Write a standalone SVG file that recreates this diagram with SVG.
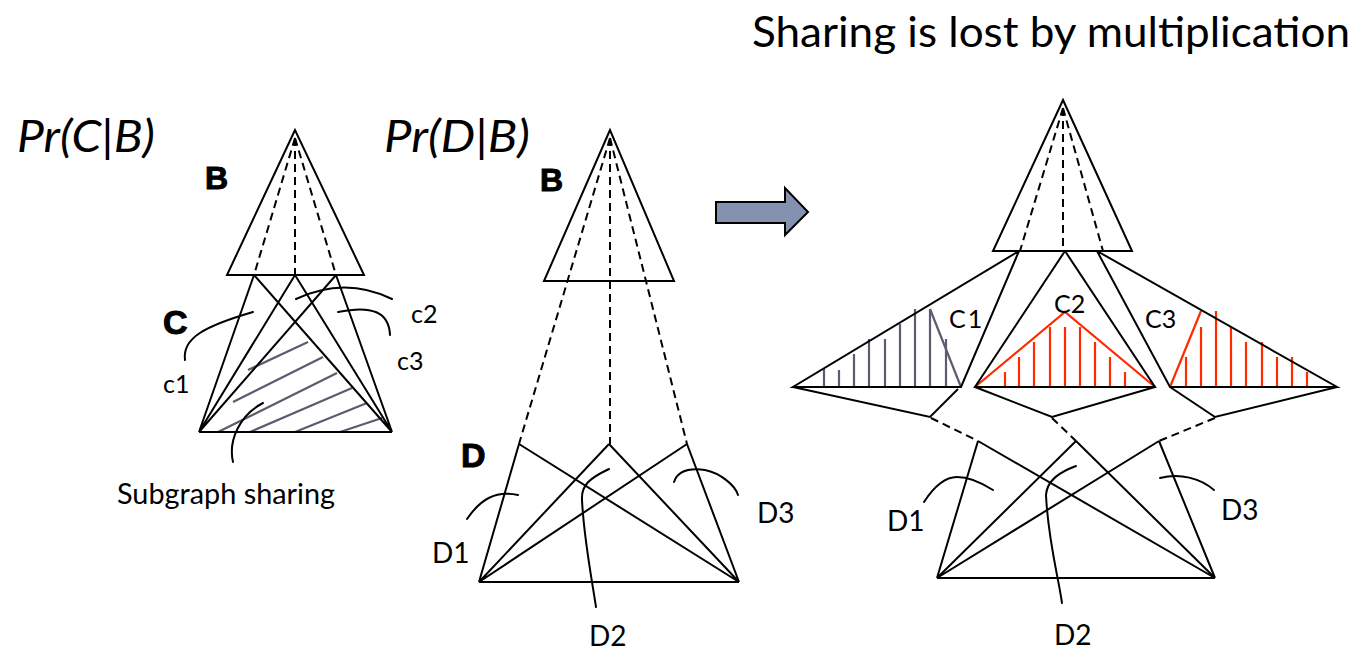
<svg xmlns="http://www.w3.org/2000/svg" width="1359" height="653" viewBox="0 0 1359 653">
<style>
.ln{stroke:#000;stroke-width:2;fill:none;stroke-linejoin:miter}
.dash{stroke:#000;stroke-width:2;fill:none;stroke-dasharray:8,5}
.cur{stroke:#000;stroke-width:2;fill:none;stroke-linecap:round}
.gray{stroke:#5c5c70;stroke-width:2.2;fill:none}
.red{stroke:#ff2a00;stroke-width:2.2;fill:none}
.t{font-family:Lato,"Open Sans","Liberation Sans",sans-serif;fill:#000}
.b{font-family:"Liberation Sans",Arial,sans-serif;font-weight:700;stroke:#000;stroke-width:1}
.it{font-style:italic}
</style>
<rect width="1359" height="653" fill="#fff"/>

<!-- titles -->
<g id="title"><text class="t" x="752" y="47" font-size="42" textLength="598" lengthAdjust="spacingAndGlyphs">Sharing is lost by multiplication</text></g>
<g id="pr-cb"><text class="t it" x="17" y="152" font-size="44" textLength="138" lengthAdjust="spacingAndGlyphs">Pr(C|B)</text></g>
<g id="pr-db"><text class="t it" x="384" y="152" font-size="44" textLength="146" lengthAdjust="spacingAndGlyphs">Pr(D|B)</text></g>

<!-- LEFT: B triangle -->
<g id="left-B">
<polygon class="ln" points="295,130 227,275 364,275"/>
<text class="t b" x="205" y="189" font-size="32">B</text>
</g>
<!-- LEFT: C subgraphs -->
<g id="left-C">
<g class="gray">
<line x1="248" y1="370" x2="308" y2="342"/>
<line x1="233" y1="402" x2="323" y2="357"/>
<line x1="218" y1="432" x2="337" y2="373"/>
<line x1="250" y1="432" x2="352" y2="388"/>
<line x1="295" y1="432" x2="367" y2="403"/>
<line x1="340" y1="432" x2="382" y2="418"/>
</g>
<path class="ln" d="M254,275 L199,432 M254,275 L392,432 M295,275 L199,432 M295,275 L392,432 M336,275 L199,432 M336,275 L392,432 M199,432 L392,432"/>
<text class="t b" x="163" y="334" font-size="34">C</text>
<text class="t" x="163" y="393" font-size="25">c1</text>
<text class="t" x="411" y="323" font-size="25">c2</text>
<text class="t" x="397" y="370" font-size="25">c3</text>
<text class="t" x="117" y="504" font-size="28" textLength="218" lengthAdjust="spacingAndGlyphs">Subgraph sharing</text>
</g>

<!-- ARROW -->
<g id="arrow">
<polygon points="716,202 785,202 785,188 808,212 785,235 785,223 716,223" fill="#8591b0" stroke="#000" stroke-width="2" stroke-linejoin="miter"/>
</g>

<!-- MIDDLE: B triangle -->
<g id="mid-B">
<polygon class="ln" points="610,130 544,281 674,281"/>
<text class="t b" x="540" y="191" font-size="32">B</text>
</g>
<!-- MIDDLE: D subgraphs -->
<g id="mid-D">
<path class="ln" d="M519,444 L479,582 M519,444 L739,582 M609,444 L479,582 M609,444 L739,582 M687,444 L479,582 M687,444 L739,582 M479,582 L739,582"/>
<text class="t b" x="461" y="467" font-size="34">D</text>
<text class="t" x="432" y="563" font-size="28">D1</text>
<text class="t" x="589" y="646" font-size="28">D2</text>
<text class="t" x="757" y="523" font-size="28">D3</text>
</g>

<!-- RIGHT: B triangle -->
<g id="right-B">
<polygon class="ln" points="1063,100 993,251 1132,251"/>
</g>
<!-- RIGHT: C1 -->
<g id="right-C1">
<g class="gray">
<line x1="824" y1="387" x2="824" y2="369"/>
<line x1="839" y1="387" x2="839" y2="370"/>
<line x1="854" y1="387" x2="854" y2="354"/>
<line x1="869" y1="387" x2="869" y2="339"/>
<line x1="885" y1="387" x2="885" y2="339"/>
<line x1="900" y1="387" x2="900" y2="324"/>
<line x1="915" y1="387" x2="915" y2="309"/>
<line x1="930" y1="387" x2="930" y2="309"/>
<line x1="946" y1="387" x2="946" y2="339"/>
<line x1="930" y1="309" x2="961" y2="387"/>
</g>
<path class="ln" d="M1019,251 L793,387 L961,387 L1019,251 M793,387 L930,417 L958,389"/>
<text class="t" x="949" y="328" font-size="25" letter-spacing="2">C1</text>
</g>
<!-- RIGHT: C2 -->
<g id="right-C2">
<g class="red">
<line x1="1005" y1="387" x2="1005" y2="372"/>
<line x1="1019" y1="387" x2="1019" y2="357"/>
<line x1="1034" y1="387" x2="1034" y2="342"/>
<line x1="1050" y1="387" x2="1050" y2="327"/>
<line x1="1065" y1="387" x2="1065" y2="327"/>
<line x1="1080" y1="387" x2="1080" y2="327"/>
<line x1="1095" y1="387" x2="1095" y2="342"/>
<line x1="1110" y1="387" x2="1110" y2="357"/>
<line x1="1125" y1="387" x2="1125" y2="372"/>
<polyline points="975,387 1065,312 1155,387"/>
</g>
<path class="ln" d="M1065,251 L975,387 L1155,387 L1065,251 M975,387 L1052,417 L1155,387"/>
<text class="t" x="1054" y="313" font-size="25">C2</text>
</g>
<!-- RIGHT: C3 -->
<g id="right-C3">
<g class="red">
<line x1="1186" y1="387" x2="1186" y2="357"/>
<line x1="1201" y1="387" x2="1201" y2="327"/>
<line x1="1216" y1="387" x2="1216" y2="311"/>
<line x1="1231" y1="387" x2="1231" y2="327"/>
<line x1="1246" y1="387" x2="1246" y2="342"/>
<line x1="1262" y1="387" x2="1262" y2="342"/>
<line x1="1277" y1="387" x2="1277" y2="357"/>
<line x1="1292" y1="387" x2="1292" y2="357"/>
<line x1="1307" y1="387" x2="1307" y2="372"/>
<line x1="1170" y1="387" x2="1201" y2="311"/>
</g>
<path class="ln" d="M1097,251 L1170,387 L1337,387 L1097,251 M1170,387 L1215,417 L1337,387"/>
<text class="t" x="1145" y="328" font-size="25">C3</text>
</g>
<!-- RIGHT: D subgraphs -->
<g id="right-D">
<path class="ln" d="M978,441 L937,578 M978,441 L1215,578 M1076,441 L937,578 M1076,441 L1215,578 M1159,441 L937,578 M1159,441 L1215,578 M937,578 L1215,578"/>
<text class="t" x="887" y="531" font-size="28">D1</text>
<text class="t" x="1054" y="645" font-size="28">D2</text>
<text class="t" x="1221" y="520" font-size="28">D3</text>
</g>

<!-- connectors: dashed edges and callout curves -->
<g id="connectors">
<path class="dash" d="M295,138 L254,275 M295,138 L295,275 M295,138 L336,275"/>
<path class="dash" d="M610,138 L519,444 M610,138 L610,444 M610,138 L687,444"/>
<path class="dash" d="M1063,108 L1020,251 M1063,108 L1063,251 M1063,108 L1103,251"/>
<path class="dash" d="M931,418 L978,441 M1052,418 L1076,441 M1215,418 L1159,441"/>
<path class="cur" d="M185,360 C182,338 205,326 253,312"/>
<path class="cur" d="M296,299 Q345,276 392,299"/>
<path class="cur" d="M338,312 C372,305 389,312 390,335"/>
<path class="cur" d="M263,403 C240,415 228,440 233,462"/>
<path class="cur" d="M467,519 C480,500 495,490 518,495"/>
<path class="cur" d="M609,469 C590,478 581,485 582,500 C584,540 592,580 596,607"/>
<path class="cur" d="M674,482 C678,470 690,468 705,470 C720,473 735,485 738,495"/>
<path class="cur" d="M924,502 C935,485 945,477 957,477 C970,477 982,483 993,490"/>
<path class="cur" d="M1076,466 C1060,472 1047,480 1046,495 C1048,540 1058,575 1062,603"/>
<path class="cur" d="M1160,478 C1180,473 1200,478 1214,490"/>
</g>
</svg>
